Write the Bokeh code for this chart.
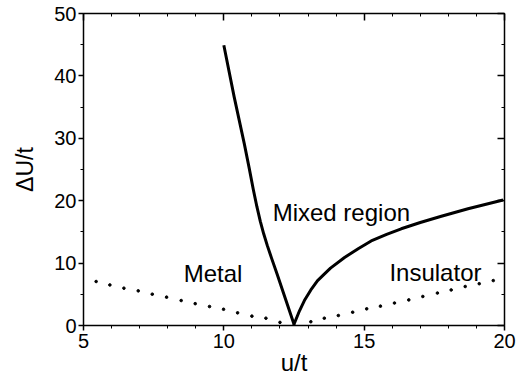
from bokeh.plotting import figure
from bokeh.models import LinearAxis, Range1d, FixedTicker, CustomJSTickFormatter
from bokeh.embed import file_html
from bokeh.resources import INLINE
from bokeh.core.properties import value

# Phase boundary (solid curve)
boundary_u = [10.0, 10.37, 10.73, 10.9, 11.05, 11.18, 11.3, 11.42, 11.55, 11.7, 11.9, 12.2, 12.5,
              12.7, 12.87, 13.1, 13.34, 13.8, 14.3, 14.8, 15.25, 15.8, 16.32, 17.0, 17.75, 18.7, 19.95]
boundary_y = [44.9, 36.6, 29.1, 25.3, 21.8, 19.0, 16.7, 14.7, 12.8, 10.8, 8.2, 4.2, 0.2,
              2.4, 4.0, 5.7, 7.2, 9.2, 10.9, 12.35, 13.55, 14.6, 15.5, 16.5, 17.5, 18.7, 20.1]

# Dotted curve
dots_u = [5.45, 5.94, 6.44, 6.95, 7.45, 7.96, 8.48, 8.98, 9.49, 9.99, 10.49, 11.0, 11.5, 12.0, 12.5,
          13.1, 13.58, 14.08, 14.59, 15.09, 15.58, 16.08, 16.59, 17.09, 17.61, 18.1, 18.6, 19.1, 19.6]
dots_y = [7.05, 6.5, 5.98, 5.55, 5.02, 4.54, 4.0, 3.5, 3.04, 2.6, 2.03, 1.5, 1.17, 0.5, 0.0,
          0.6, 1.17, 1.6, 2.13, 2.67, 3.1, 3.6, 4.1, 4.65, 5.2, 5.7, 6.25, 6.7, 7.2]

# Region labels
region_names = ["Metal", "Mixed region", "Insulator"]
region_u = [8.57, 11.74, 15.9]
region_y = [8.33, 18.1, 8.54]

x_ticks = [5, 10, 15, 20]
x_minor = list(range(5, 21))
y_ticks = [0, 10, 20, 30, 40, 50]
y_minor = list(range(0, 51, 5))

FONT = "Liberation Sans"

p = figure(width=521, height=382, x_range=Range1d(5, 20), y_range=Range1d(0, 50),
           output_backend="svg", toolbar_location=None,
           min_border_left=83, min_border_right=17, min_border_top=13, min_border_bottom=57,
           background_fill_color="white", border_fill_color="white", outline_line_color=None)
p.grid.visible = False


def style_axis(ax, ticks, minor, outside, show_labels):
    ax.ticker = FixedTicker(ticks=ticks, minor_ticks=minor)
    ax.axis_line_color = "black"
    ax.axis_line_width = 1.5
    ax.major_tick_line_color = "black"
    ax.minor_tick_line_color = "black"
    ax.major_tick_line_width = 1.5
    ax.minor_tick_line_width = 1
    if outside:
        ax.major_tick_out = 5
        ax.major_tick_in = 0
        ax.minor_tick_out = 3
        ax.minor_tick_in = 0
    else:
        ax.major_tick_out = 0
        ax.major_tick_in = 7
        ax.minor_tick_out = 0
        ax.minor_tick_in = 3
    ax.major_label_text_font = FONT
    ax.major_label_text_color = "black"
    if show_labels:
        ax.major_label_text_font_size = "20px"
    else:
        ax.formatter = CustomJSTickFormatter(code="return '';")
        ax.major_label_standoff = 0


xa = p.xaxis[0]
style_axis(xa, x_ticks, x_minor, True, True)
xa.major_label_standoff = 3
xa.axis_label = "u/t"
xa.axis_label_text_font = FONT
xa.axis_label_text_font_size = "24px"
xa.axis_label_text_font_style = "normal"
xa.axis_label_text_color = "black"
xa.axis_label_standoff = -2

ya = p.yaxis[0]
style_axis(ya, y_ticks, y_minor, True, True)
ya.major_label_standoff = 2
ya.axis_label = "ΔU/t"
ya.axis_label_text_font = FONT
ya.axis_label_text_font_size = "23px"
ya.axis_label_text_font_style = "normal"
ya.axis_label_text_color = "black"
ya.axis_label_standoff = 13

top = LinearAxis()
style_axis(top, x_ticks, x_minor, False, False)
p.add_layout(top, "above")

right = LinearAxis()
style_axis(right, y_ticks, y_minor, False, False)
p.add_layout(right, "right")

p.line(boundary_u, boundary_y, line_width=3, line_color="black", line_join="round")
p.scatter(dots_u, dots_y, marker="circle", size=2.6, fill_color="black", line_color="black")

p.text(x=region_u, y=region_y, text=region_names, text_font=value(FONT), text_font_size="24px",
       text_color="black", text_align="left", text_baseline="alphabetic")

open("out.html", "w").write(file_html(p, INLINE))
